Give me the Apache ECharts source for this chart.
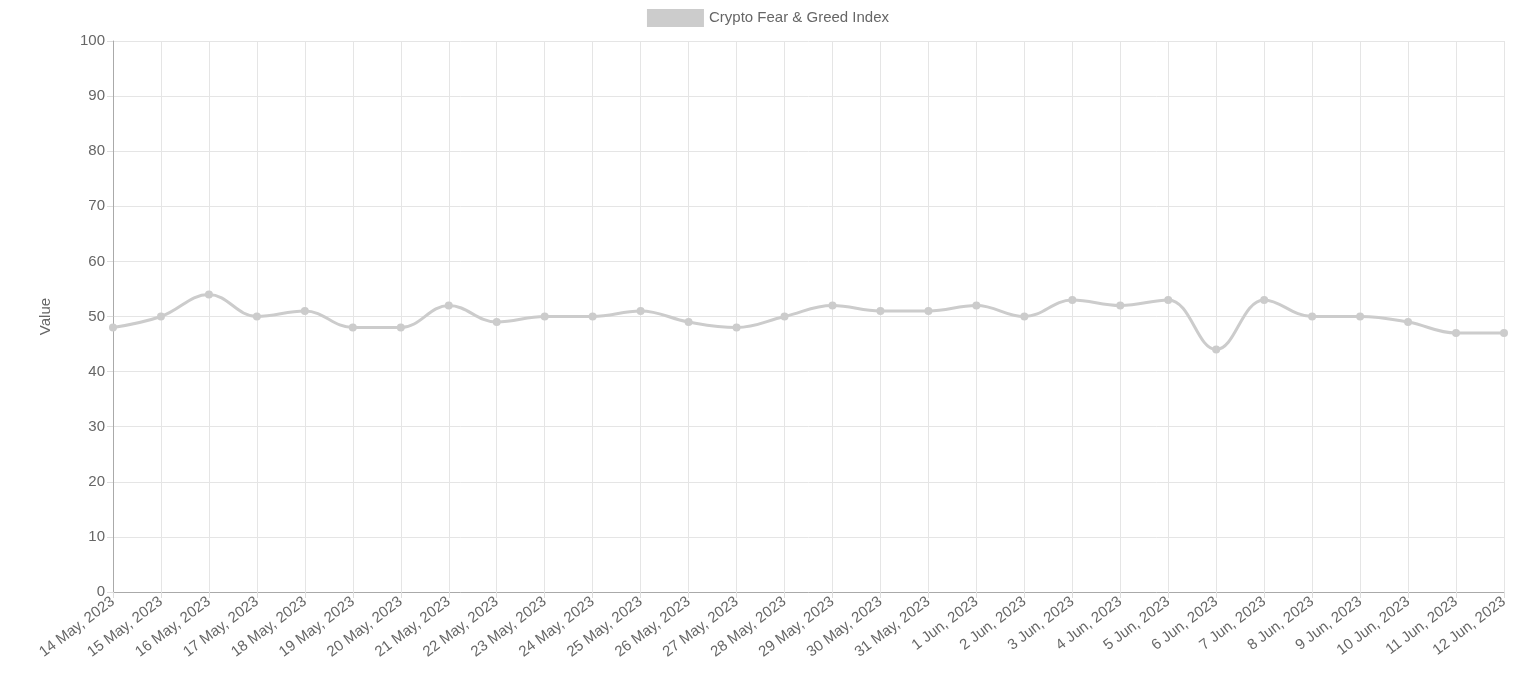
<!DOCTYPE html><html><head><meta charset="utf-8"><script src="https://cdn.jsdelivr.net/npm/echarts@6/dist/echarts.min.js"></script></head><body style="margin:0"><div id="c" style="width:1536px;height:675px"></div><script>
const categories=["14 May, 2023","15 May, 2023","16 May, 2023","17 May, 2023","18 May, 2023","19 May, 2023","20 May, 2023","21 May, 2023","22 May, 2023","23 May, 2023","24 May, 2023","25 May, 2023","26 May, 2023","27 May, 2023","28 May, 2023","29 May, 2023","30 May, 2023","31 May, 2023","1 Jun, 2023","2 Jun, 2023","3 Jun, 2023","4 Jun, 2023","5 Jun, 2023","6 Jun, 2023","7 Jun, 2023","8 Jun, 2023","9 Jun, 2023","10 Jun, 2023","11 Jun, 2023","12 Jun, 2023"];
const values=[48,50,54,50,51,48,48,52,49,50,50,51,49,48,50,52,51,51,52,50,53,52,53,44,53,50,50,49,47,47];
const chart=echarts.init(document.getElementById('c'));
chart.setOption({
legend:{top:4,left:'center',itemWidth:57,itemHeight:18,itemGap:8,icon:'rect',textStyle:{color:'#666',fontSize:15,fontFamily:'Liberation Sans'},data:[{name:'Crypto Fear & Greed Index',itemStyle:{color:'#ccc'}}]},
grid:{left:113,right:32,top:41,bottom:83},
xAxis:{type:'category',data:categories,boundaryGap:false,axisLine:{lineStyle:{color:'#aaa'}},axisTick:{show:true,lineStyle:{color:'#ddd'},length:6},axisLabel:{rotate:37,interval:0,color:'#666',fontSize:15,fontFamily:'Liberation Sans',margin:8},splitLine:{show:true,lineStyle:{color:'#e5e5e5'}}},
yAxis:{type:'value',min:0,max:100,interval:10,name:'Value',nameLocation:'middle',nameGap:60,nameTextStyle:{color:'#666',fontSize:15,fontFamily:'Liberation Sans'},axisLine:{show:true,lineStyle:{color:'#aaa'}},axisTick:{show:true,lineStyle:{color:'#ddd'},length:6},axisLabel:{color:'#666',fontSize:15,fontFamily:'Liberation Sans'},splitLine:{lineStyle:{color:'#e5e5e5'}}},
series:[{name:'Crypto Fear & Greed Index',type:'line',data:values,smooth:0.4,symbol:'circle',symbolSize:8,lineStyle:{color:'#ccc',width:3},itemStyle:{color:'#ccc'}}]
});
</script></body></html>
